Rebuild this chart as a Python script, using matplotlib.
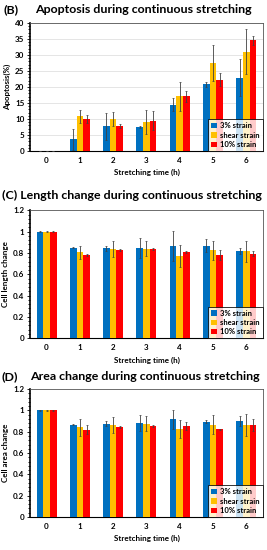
import numpy as np
import matplotlib
matplotlib.use("Agg")
from matplotlib import pyplot as plt
from matplotlib.ticker import AutoMinorLocator

plt.rcParams['font.family'] = ['Lato', 'DejaVu Sans']

hours = ["0", "1", "2", "3", "4", "5", "6"]
series = ["3% strain", "shear strain", "10% strain"]
colors = ["#0070C0", "#FFC000", "#FF0000"]

# apoptosis (%)
apo_3 = [0, 3.7, 7.7, 7.5, 14.5, 20.9, 22.9]
apo_shear = [0, 10.8, 10.0, 9.0, 17.1, 27.6, 31.0]
apo_10 = [0, 9.9, 7.8, 9.5, 17.1, 22.3, 34.6]
apo_3_err = [0, 3.3, 4.3, 0.3, 2.0, 0.8, 5.8]
apo_shear_err = [0, 2.0, 2.2, 3.8, 4.5, 5.6, 7.0]
apo_10_err = [0, 1.3, 0.6, 3.0, 1.8, 2.1, 1.3]

# cell length change
len_3 = [1, 0.85, 0.845, 0.85, 0.865, 0.87, 0.82]
len_shear = [1, 0.805, 0.835, 0.84, 0.77, 0.825, 0.815]
len_10 = [1, 0.785, 0.825, 0.835, 0.81, 0.78, 0.795]
len_3_err = [0.002, 0.005, 0.025, 0.095, 0.14, 0.065, 0.03]
len_shear_err = [0.002, 0.065, 0.075, 0.07, 0.105, 0.09, 0.1]
len_10_err = [0.002, 0.01, 0.01, 0.01, 0.01, 0.05, 0.025]

# cell area change
area_3 = [1, 0.865, 0.875, 0.88, 0.915, 0.895, 0.9]
area_shear = [1, 0.84, 0.865, 0.875, 0.825, 0.865, 0.865]
area_10 = [1, 0.82, 0.845, 0.855, 0.855, 0.825, 0.865]
area_3_err = [0.002, 0.005, 0.025, 0.075, 0.085, 0.015, 0.045]
area_shear_err = [0.002, 0.08, 0.075, 0.07, 0.085, 0.09, 0.105]
area_10_err = [0.002, 0.04, 0.01, 0.01, 0.035, 0.005, 0.055]

f = plt.figure(figsize=(2.67, 5.5), dpi=100)

panels = [
    ([0.112, 0.7255, 0.873, 0.2325], [apo_3, apo_shear, apo_10],
     [apo_3_err, apo_shear_err, apo_10_err], "Apoptosis(%)", 40, 5, True),
    ([0.112, 0.385, 0.873, 0.2325], [len_3, len_shear, len_10],
     [len_3_err, len_shear_err, len_10_err], "Cell length change", 1.2, 0.2, False),
    ([0.112, 0.06, 0.873, 0.2325], [area_3, area_shear, area_10],
     [area_3_err, area_shear_err, area_10_err], "Cell area change", 1.2, 0.2, False),
]

x = np.arange(len(hours))
w = 0.2
for rect, vals, errs, ylab, ymax, step, grid in panels:
    ax = f.add_axes(rect)
    for i in range(3):
        ax.bar(x + (i - 1) * w, vals[i], w, color=colors[i], label=series[i],
               yerr=errs[i], error_kw=dict(ecolor="#404040", elinewidth=0.6,
                                           capsize=1, capthick=0.5), zorder=3)
    ax.set_xlim(-0.5, 6.5)
    ax.set_ylim(0, ymax)
    ax.set_yticks(np.arange(0, ymax + step / 2, step))
    if step < 1:
        ax.set_yticklabels(["0", "0.2", "0.4", "0.6", "0.8", "1", "1.2"])
    ax.yaxis.set_minor_locator(AutoMinorLocator(5))
    ax.set_xticks(x)
    ax.set_xticklabels(hours)
    ax.tick_params(axis="both", labelsize=5.8, length=2, width=0.6, pad=2)
    ax.tick_params(axis="y", which="minor", length=1.5, width=0.6)
    ax.tick_params(axis="x", length=0, pad=4)
    for lab in ax.get_xticklabels() + ax.get_yticklabels():
        lab.set_fontweight("bold")
    if grid:
        ax.yaxis.grid(True, color="#e0e0e0", linewidth=0.6, zorder=0)
    ax.spines["left"].set_linewidth(1.2)
    ax.spines["bottom"].set_linewidth(0.8)
    for s in ["top", "right"]:
        ax.spines[s].set_linewidth(0.6)
        ax.spines[s].set_color("#555555")
    ax.set_ylabel(ylab, fontsize=5.8, fontweight="bold", labelpad=3)
    ax.set_xlabel("Stretching time (h)", fontsize=5.8, fontweight="bold", labelpad=4)
    leg = ax.legend(loc="lower right", fontsize=5.5, frameon=True, fancybox=False,
                    borderaxespad=0, handlelength=0.7, handleheight=0.7,
                    handletextpad=0.5, borderpad=0.4, labelspacing=0.3)
    leg.get_frame().set_edgecolor("black")
    leg.get_frame().set_linewidth(0.7)
    for t in leg.get_texts():
        t.set_fontweight("bold")

f.text(0.012, 0.982, "(B)", fontsize=8.95, fontweight="bold", va="center")
f.text(0.13, 0.982, "Apoptosis during continuous stretching", fontsize=8.95,
       fontweight="bold", va="center")
f.text(0.006, 0.645, "(C) Length change during continuous stretching", fontsize=8.95,
       fontweight="bold", va="center")
f.text(0.006, 0.316, "(D)", fontsize=8.95, fontweight="bold", va="center")
f.text(0.112, 0.316, "Area change during continuous stretching", fontsize=8.95,
       fontweight="bold", va="center")

f.savefig("out.png", dpi=100)
